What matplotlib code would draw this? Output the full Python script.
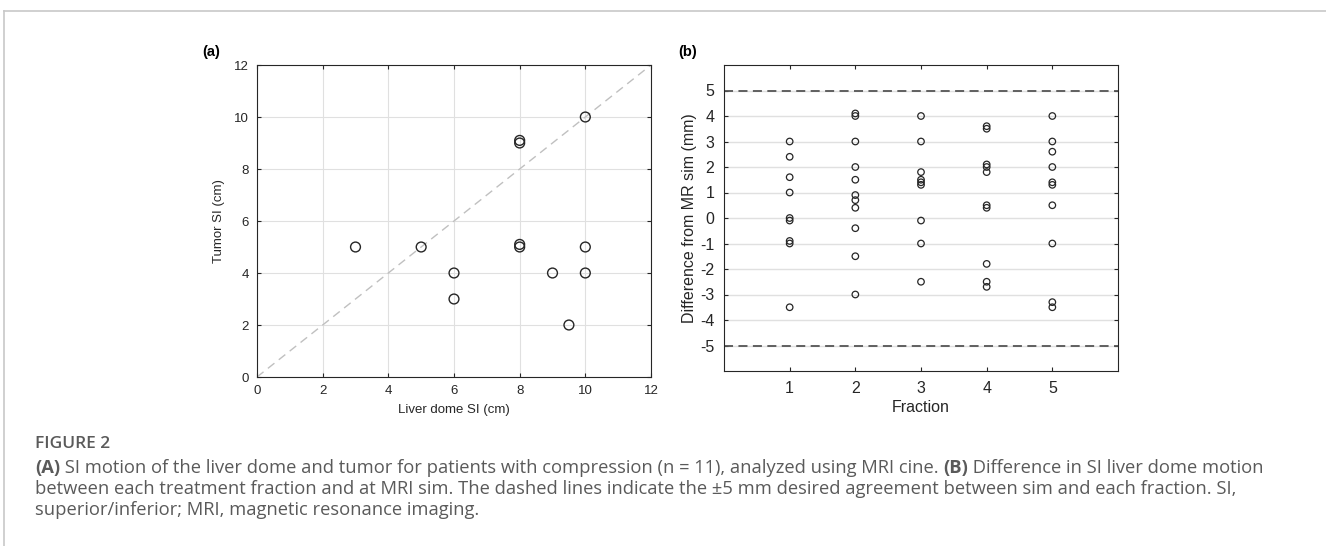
import numpy as np
import matplotlib
matplotlib.use("Agg")
import matplotlib.pyplot as plt
from matplotlib.lines import Line2D

plt.rcParams['font.family'] = ['Liberation Sans', 'DejaVu Sans']
plt.rcParams['axes.unicode_minus'] = False

# panel (a): liver dome vs tumor SI motion
liver_si = [3, 5, 6, 6, 8, 8, 8, 8, 9, 9.5, 10, 10, 10]
tumor_si = [5, 5, 4, 3, 9.1, 9.0, 5.1, 5.0, 4, 2, 10, 5, 4]

# panel (b): difference from MR sim per fraction
frac1 = [3.0, 2.4, 1.6, 1.0, 0.0, -0.1, -0.9, -1.0, -3.5]
frac2 = [4.1, 4.0, 3.0, 2.0, 1.5, 0.9, 0.7, 0.4, -0.4, -1.5, -3.0]
frac3 = [4.0, 3.0, 1.8, 1.5, 1.4, 1.3, -0.1, -1.0, -2.5]
frac4 = [3.6, 3.5, 2.1, 2.0, 1.8, 0.5, 0.4, -1.8, -2.5, -2.7]
frac5 = [4.0, 3.0, 2.6, 2.0, 1.4, 1.3, 0.5, -1.0, -3.3, -3.5]
fractions = [frac1, frac2, frac3, frac4, frac5]

W, H = 1326, 546
fig = plt.figure(figsize=(W / 100, H / 100), dpi=100)

# outer frame
fig.add_artist(Line2D([4 / W, 1], [1 - 11 / H, 1 - 11 / H], color='#c8c8c8', lw=1.2))
fig.add_artist(Line2D([4 / W, 4 / W], [0, 1 - 11 / H], color='#c8c8c8', lw=1.2))

dark = '#262626'

# ---- panel a
ax1 = fig.add_axes([257 / W, 1 - 377 / H, 394 / W, 312 / H])
ax1.plot([0, 12], [0, 12], ls=(0, (6, 4)), color='#c0c0c0', lw=1)
ax1.scatter(liver_si, tumor_si, s=50, facecolors='none', edgecolors=dark, linewidths=1, zorder=3)
ax1.set_xlim(0, 12)
ax1.set_ylim(0, 12)
ax1.set_xticks(range(0, 13, 2))
ax1.set_yticks(range(0, 13, 2))
ax1.grid(True, color='#e0e0e0', lw=0.8)
ax1.set_axisbelow(True)
ax1.tick_params(direction='in', top=True, right=True, labelsize=9.5, colors=dark, length=3, pad=6)
ax1.set_xlabel('Liver dome SI (cm)', fontsize=9.5, color=dark, labelpad=5)
ax1.set_ylabel('Tumor SI (cm)', fontsize=9.5, color=dark, labelpad=6)
for sp in ax1.spines.values():
    sp.set_color(dark)
    sp.set_linewidth(0.8)
fig.text(202 / W, 1 - 52 / H, '(a)', fontsize=10.5, fontweight='bold', va='center')

# ---- panel b
ax2 = fig.add_axes([724 / W, 1 - 371 / H, 394 / W, 306 / H])
for i, vals in enumerate(fractions):
    ax2.scatter([i + 1] * len(vals), vals, s=22, facecolors='none', edgecolors=dark, linewidths=0.9, zorder=3)
ax2.axhline(5, ls=(0, (5, 3)), color='#555555', lw=1.3)
ax2.axhline(-5, ls=(0, (5, 3)), color='#555555', lw=1.3)
ax2.set_xlim(0, 6)
ax2.set_ylim(-6, 6)
ax2.set_xticks([1, 2, 3, 4, 5])
ax2.set_yticks(range(-5, 6))
ax2.yaxis.grid(True, color='#e0e0e0', lw=1)
ax2.set_axisbelow(True)
ax2.tick_params(direction='in', top=True, right=True, labelsize=11.5, colors=dark, length=3, pad=7)
ax2.set_xlabel('Fraction', fontsize=11.5, color=dark, labelpad=3)
ax2.set_ylabel('Difference from MR sim (mm)', fontsize=11.5, color=dark, labelpad=2)
for sp in ax2.spines.values():
    sp.set_color(dark)
    sp.set_linewidth(0.8)
fig.text(678 / W, 1 - 52 / H, '(b)', fontsize=10.5, fontweight='bold', va='center')

# ---- caption
cap = '#5a5a5a'
capfont = 'Open Sans'
fig.text(35 / W, 1 - 444 / H, 'FIGURE 2', fontsize=12.5, color=cap, family=capfont,
         fontweight='semibold', va='center')

renderer = fig.canvas.get_renderer()


def text_run(x_px, y_px, parts):
    x = x_px
    for s, bold in parts:
        t = fig.text(x / W, 1 - y_px / H, s, fontsize=13.2, color=cap, family=capfont,
                     fontweight='bold' if bold else 'normal', va='center')
        bb = t.get_window_extent(renderer=renderer)
        x = bb.x1
    return x


text_run(35, 468, [('(A)', True),
                   (' SI motion of the liver dome and tumor for patients with compression (n = 11), analyzed using MRI cine. ', False),
                   ('(B)', True),
                   (' Difference in SI liver dome motion', False)])
text_run(35, 489, [('between each treatment fraction and at MRI sim. The dashed lines indicate the \u00b15 mm desired agreement between sim and each fraction. SI,', False)])
text_run(35, 510, [('superior/inferior; MRI, magnetic resonance imaging.', False)])

fig.savefig('out.png', dpi=100)
